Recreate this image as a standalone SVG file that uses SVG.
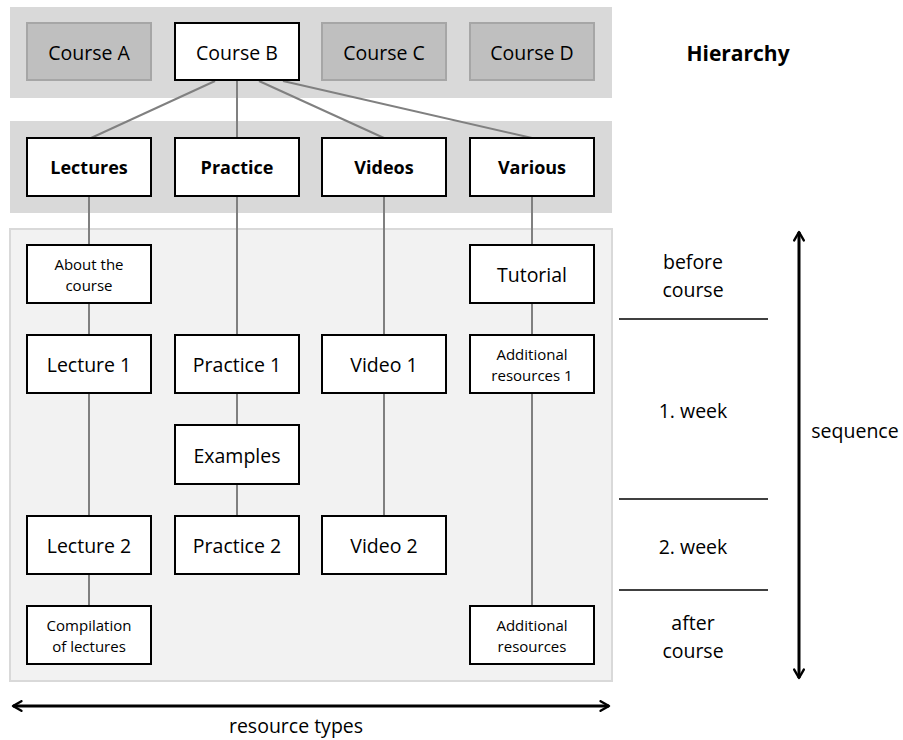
<svg xmlns="http://www.w3.org/2000/svg" width="903" height="740" viewBox="0 0 903 740">
  <style>
    text { font-family: "Open Sans", "Noto Sans", "Liberation Sans", sans-serif; fill: #000; text-anchor: middle; dominant-baseline: central; }
    .band { fill: #d9d9d9; }
    .panel { fill: #f2f2f2; stroke: #d9d9d9; stroke-width: 2; }
    .box { fill: #fff; stroke: #000; stroke-width: 2; }
    .grey { fill: #bfbfbf; stroke: #a6a6a6; stroke-width: 2; }
    .lbl { font-size: 19.5px; }
    .bold { font-size: 18px; font-weight: bold; }
    .small { font-size: 15px; }
    .side { font-size: 19.5px; }
    .conn { stroke: #808080; stroke-width: 2; fill: none; }
    .rule { stroke: #000; stroke-width: 1.5; }
    .axis { stroke: #000; stroke-width: 3; fill: none; }
  </style>
  <defs>
    <marker id="head" viewBox="0 0 10 10" refX="8" refY="5" markerWidth="4" markerHeight="4" orient="auto-start-reverse" markerUnits="strokeWidth">
      <path d="M1,1 L8,5 L1,9" fill="none" stroke="#000" stroke-width="2" stroke-linecap="round" stroke-linejoin="round"/>
    </marker>
  </defs>

  <!-- background bands -->
  <rect class="band" x="10" y="7" width="602" height="91"/>
  <rect class="band" x="10" y="121" width="602" height="92"/>
  <rect class="panel" x="10" y="229" width="602" height="452"/>

  <!-- connectors -->
  <g id="connectors">
    <line class="conn" x1="215" y1="81" x2="91" y2="138"/>
    <line class="conn" x1="237" y1="81" x2="237" y2="138"/>
    <line class="conn" x1="259" y1="81" x2="384" y2="138"/>
    <line class="conn" x1="283" y1="81" x2="532" y2="138"/>
    <line class="conn" x1="89" y1="196" x2="89" y2="606"/>
    <line class="conn" x1="237" y1="196" x2="237" y2="516"/>
    <line class="conn" x1="384" y1="196" x2="384" y2="516"/>
    <line class="conn" x1="532" y1="196" x2="532" y2="606"/>
  </g>

  <!-- courses -->
  <g id="courseA"><rect class="grey" x="27" y="23" width="124" height="57"/><text class="lbl" x="89" y="52">Course A</text></g>
  <g id="courseB"><rect class="box" x="175" y="23" width="124" height="57"/><text class="lbl" x="237" y="52">Course B</text></g>
  <g id="courseC"><rect class="grey" x="322" y="23" width="124" height="57"/><text class="lbl" x="384" y="52">Course C</text></g>
  <g id="courseD"><rect class="grey" x="470" y="23" width="124" height="57"/><text class="lbl" x="532" y="52">Course D</text></g>

  <!-- resource types -->
  <g id="lectures"><rect class="box" x="27" y="138" width="124" height="58"/><text class="bold" x="89" y="167">Lectures</text></g>
  <g id="practice"><rect class="box" x="175" y="138" width="124" height="58"/><text class="bold" x="237" y="167">Practice</text></g>
  <g id="videos"><rect class="box" x="322" y="138" width="124" height="58"/><text class="bold" x="384" y="167">Videos</text></g>
  <g id="various"><rect class="box" x="470" y="138" width="124" height="58"/><text class="bold" x="532" y="167">Various</text></g>

  <!-- lectures column -->
  <g id="about"><rect class="box" x="27" y="245" width="124" height="58"/><text class="small" x="89" y="264">About the</text><text class="small" x="89" y="285">course</text></g>
  <g id="lecture1"><rect class="box" x="27" y="335" width="124" height="58"/><text class="lbl" x="89" y="364">Lecture 1</text></g>
  <g id="lecture2"><rect class="box" x="27" y="516" width="124" height="58"/><text class="lbl" x="89" y="545">Lecture 2</text></g>
  <g id="compilation"><rect class="box" x="27" y="606" width="124" height="58"/><text class="small" x="89" y="625">Compilation</text><text class="small" x="89" y="646">of lectures</text></g>

  <!-- practice column -->
  <g id="practice1"><rect class="box" x="175" y="335" width="124" height="58"/><text class="lbl" x="237" y="364">Practice 1</text></g>
  <g id="examples"><rect class="box" x="175" y="425" width="124" height="59"/><text class="lbl" x="237" y="455">Examples</text></g>
  <g id="practice2"><rect class="box" x="175" y="516" width="124" height="58"/><text class="lbl" x="237" y="545">Practice 2</text></g>

  <!-- videos column -->
  <g id="video1"><rect class="box" x="322" y="335" width="124" height="58"/><text class="lbl" x="384" y="364">Video 1</text></g>
  <g id="video2"><rect class="box" x="322" y="516" width="124" height="58"/><text class="lbl" x="384" y="545">Video 2</text></g>

  <!-- various column -->
  <g id="tutorial"><rect class="box" x="470" y="245" width="124" height="58"/><text class="lbl" x="532" y="274">Tutorial</text></g>
  <g id="additional1"><rect class="box" x="470" y="335" width="124" height="58"/><text class="small" x="532" y="354">Additional</text><text class="small" x="532" y="375">resources 1</text></g>
  <g id="additional"><rect class="box" x="470" y="606" width="124" height="58"/><text class="small" x="532" y="625">Additional</text><text class="small" x="532" y="646">resources</text></g>

  <!-- side labels and time divisions -->
  <text x="738" y="53" style="font-size:21px;font-weight:bold">Hierarchy</text>
  <line class="rule" x1="619" y1="319" x2="768" y2="319"/>
  <line class="rule" x1="619" y1="499" x2="768" y2="499"/>
  <line class="rule" x1="619" y1="590" x2="768" y2="590"/>
  <text class="side" x="693" y="261">before</text>
  <text class="side" x="693" y="289">course</text>
  <text class="side" x="693" y="410">1. week</text>
  <text class="side" x="693" y="546">2. week</text>
  <text class="side" x="693" y="622">after</text>
  <text class="side" x="693" y="650">course</text>
  <text class="side" x="855" y="430">sequence</text>

  <!-- axes -->
  <line class="axis" x1="799" y1="232" x2="799" y2="678" marker-start="url(#head)" marker-end="url(#head)"/>
  <line class="axis" x1="13" y1="706" x2="609" y2="706" marker-start="url(#head)" marker-end="url(#head)"/>
  <text class="side" x="296" y="725">resource types</text>
</svg>
